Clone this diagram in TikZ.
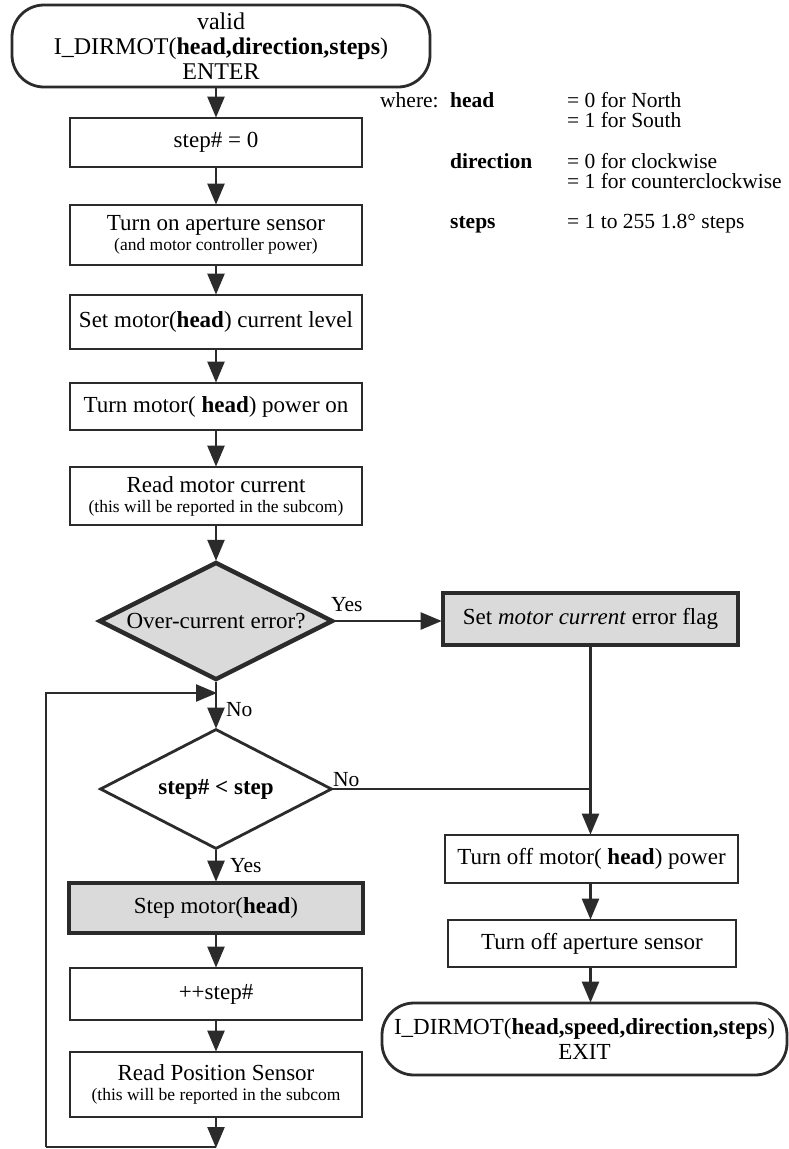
\documentclass[tikz,border=0pt]{standalone}
\usepackage{fontspec}
\setmainfont{Liberation Serif}
\usetikzlibrary{arrows.meta,shapes.geometric}
\definecolor{ink}{HTML}{2B2B2B}
\definecolor{shade}{HTML}{DADADA}
\newcommand{\mainsize}{\fontsize{23}{25}\selectfont}
\newcommand{\smallsize}{\fontsize{17.5}{19}\selectfont}
\newcommand{\termsize}{\fontsize{24}{25}\selectfont}
\newcommand{\keysize}{\fontsize{21.5}{19}\selectfont}
% two stacked legend values, first baseline on the node's base
\newcommand{\twolines}[2]{\begin{tabular}[t]{@{}l@{}}#1\\#2\end{tabular}}
\begin{document}
\begin{tikzpicture}[x=1pt,y=-1pt,
  line/.style={draw=ink, line width=2.4pt},
  arr/.style={line, -{Triangle[length=21pt,width=17pt]}, shorten >=-1pt},
  box/.style={draw=ink, line width=2.8pt, rectangle, align=center, inner sep=2pt,
              font=\mainsize, text=black},
  hotbox/.style={box, line width=4.6pt, fill=shade},
  term/.style={box, rounded corners=32pt, font=\termsize},
  decide/.style={diamond, draw=ink, line width=2.8pt, inner sep=0pt},
  dtext/.style={font=\mainsize, text=black, inner sep=0pt},
  lbl/.style={font=\keysize, inner sep=0pt, anchor=base west},
]
\useasboundingbox (0,0) rectangle (788,1149);

% main column
\node[term, minimum width=418pt, minimum height=82pt] (start) at (221,46)
  {valid\\I\_DIRMOT(\textbf{head,direction,steps})\\ENTER};
\node[box, minimum width=292pt, minimum height=49pt] (s0) at (216,142.5) {step\# = 0};
\node[box, minimum width=292pt, minimum height=60pt] (ap) at (216,235)
  {Turn on aperture sensor\\[-5pt]{\smallsize(and motor controller power)}};
\node[box, minimum width=292pt, minimum height=54pt] (lvl) at (216,322)
  {Set motor(\textbf{head}) current level};
\node[box, minimum width=292pt, minimum height=47pt] (pw) at (216,406.5)
  {Turn motor( \textbf{head}) power on};
\node[box, minimum width=292pt, minimum height=58pt] (rmc) at (216,496)
  {Read motor current\\[-5pt]{\smallsize(this will be reported in the subcom)}};
\node[decide, line width=4.4pt, fill=shade, minimum width=234pt, minimum height=118pt] (d1) at (216,621) {};
\node[dtext] (d1t) at (d1.center) {Over-current error?};
\node[decide, minimum width=232pt, minimum height=120pt] (d2) at (216,789) {};
\node[dtext] (d2t) at (d2.center) {\textbf{step\# < step}};
\node[hotbox, minimum width=294pt, minimum height=50pt] (stp) at (216,908)
  {Step motor(\textbf{head})};
\node[box, minimum width=292pt, minimum height=52pt] (inc) at (216,994) {++step\#};
\node[box, minimum width=292pt, minimum height=65pt] (rps) at (216,1084.5)
  {Read Position Sensor\\[-5pt]{\smallsize(this will be reported in the subcom}};

% right column
\node[hotbox, minimum width=295pt, minimum height=52pt] (flag) at (590.5,619)
  {Set \textit{motor current} error flag};
\node[box, minimum width=293pt, minimum height=48pt] (toff) at (591.5,859)
  {Turn off motor( \textbf{head}) power};
\node[box, minimum width=288pt, minimum height=47pt] (taps) at (592,943.5)
  {Turn off aperture sensor};
\node[term, font=\fontsize{23}{25}\selectfont, minimum width=405pt, minimum height=72pt] (exit) at (584.5,1039)
  {I\_DIRMOT(\textbf{head,speed,direction,steps})\\EXIT};

% legend
\node[lbl] (w) at (380,107) {where:};
\node[lbl] (kh) at (450,107) {\textbf{head}};
\node[lbl] (vh) at (567,107) {\twolines{= 0 for North}{= 1 for South}};
\node[lbl] (kd) at (450,168) {\textbf{direction}};
\node[lbl] (vd) at (567,168) {\twolines{= 0 for clockwise}{= 1 for counterclockwise}};
\node[lbl] (ks) at (450,228) {\textbf{steps}};
\node[lbl] (vs) at (567,228) {= 1 to 255 1.8° steps};

% loop-back corners
\coordinate (lb) at (216,1147);
\coordinate (ll) at (46,1147);
\coordinate (lt) at (216,693);

% connectors, main column
\draw[arr] (start.south -| s0) -- (s0.north);
\draw[arr] (s0) -- (ap);
\draw[arr] (ap) -- (lvl);
\draw[arr] (lvl) -- (pw);
\draw[arr] (pw) -- (rmc);
\draw[arr] (rmc.south) -- (d1.north);
\draw[arr] (d1.south) -- (d2.north);
\draw[arr] (d2.south) -- (stp.north);
\draw[arr] (stp) -- (inc);
\draw[arr] (inc) -- (rps);
\draw[arr] (rps.south) -- (lb);
\draw[line] (lb) -- (ll);
\draw[arr] (ll) |- (lt);

% connectors, right column
\draw[arr] (d1.east) -- (d1.east -| flag.west);
\draw[line] (d2.east) -- (d2.east -| flag.south);
\draw[arr] (flag.south) -- (flag.south |- toff.north);
\draw[arr] (toff.south -| flag.south) -- (taps.north -| flag.south);
\draw[arr] (taps.south -| flag.south) -- (exit.north -| flag.south);

% branch labels
\node[lbl] (y1) at (331,611) {Yes};
\node[lbl] (n1) at (226,716) {No};
\node[lbl] (n2) at (333,786) {No};
\node[lbl] (y2) at (230,872) {Yes};
\end{tikzpicture}
\end{document}
